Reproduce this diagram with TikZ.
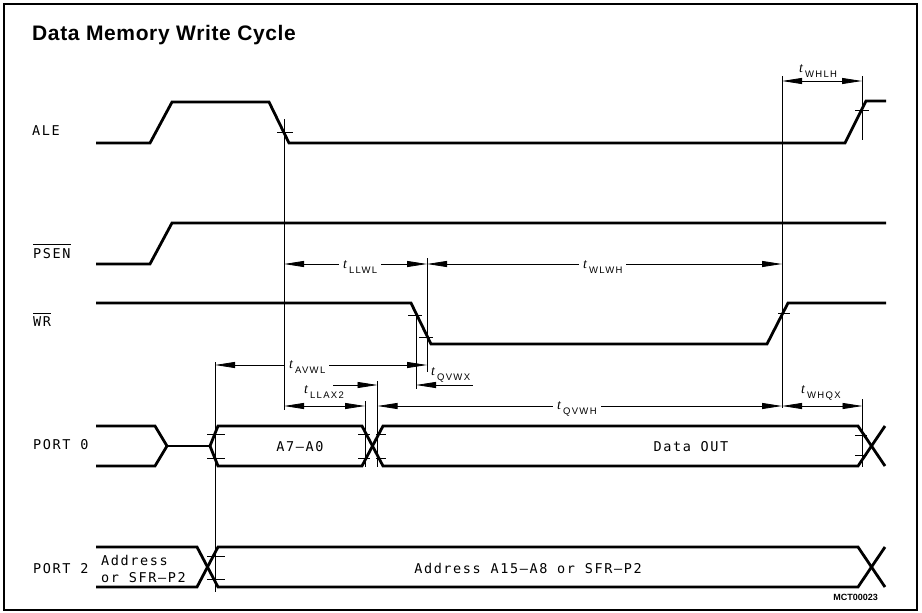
\documentclass[tikz,border=0pt]{standalone}
\usepackage{fontspec}
\setmainfont{Liberation Sans}
\newfontfamily\titlefont[LetterSpace=3]{Liberation Sans}
\newfontfamily\lblfont[LetterSpace=12]{DejaVu Sans Mono}
\newfontfamily\subfont[LetterSpace=14]{Liberation Sans}
\newfontfamily\tfont{Liberation Serif}
\usetikzlibrary{arrows.meta}
\newcommand\tlab[1]{{\tfont\itshape\fontsize{14}{14}\selectfont t}\hspace{2pt}\raisebox{-5pt}{\subfont\fontsize{9.5}{9.5}\selectfont #1}}
\begin{document}
\begin{tikzpicture}[x=1pt,y=-1pt,
  sig/.style={line width=2.8pt, line join=miter},
  thinln/.style={line width=0.8pt},
  tickln/.style={line width=0.8pt},
  dimln/.style={line width=0.8pt, {Triangle[length=20pt,width=6pt]}-{Triangle[length=20pt,width=6pt]}},
  dimr/.style={line width=0.8pt, -{Triangle[length=20pt,width=6pt]}},
  diml/.style={line width=0.8pt, {Triangle[length=20pt,width=6pt]}-},
  lbl/.style={font=\lblfont\fontsize{13.5}{16}\selectfont, inner sep=0pt},
  tlabel/.style={inner sep=0pt, anchor=base west},
  gaplabel/.style={inner xsep=4pt, inner ysep=1pt, fill=white, anchor=base west}]
\useasboundingbox (0,0) rectangle (922,613);
\draw[line width=1.3pt] (4,4) rectangle (917,610);

% title
\node[anchor=base west, inner sep=0pt, font=\titlefont\bfseries\fontsize{21}{25}\selectfont] (title) at (32,40) {Data Memory Write Cycle};

% signal names
\node[lbl, anchor=base west] (ale) at (32,135) {ALE};
\node[lbl, anchor=base west] (psen) at (33,258) {PSEN};
\node[lbl, anchor=base west] (wr) at (33,326) {WR};
\node[lbl, anchor=base west] (p0) at (33,449) {PORT 0};
\node[lbl, anchor=base west] (p2) at (33,573) {PORT 2};
\draw[thinln] ([yshift=3pt]psen.north west) -- ([yshift=3pt]psen.north east);
\draw[thinln] ([yshift=3pt]wr.north west) -- ([yshift=3pt]wr.north east);

% thin vertical reference lines
\draw[thinln] (284,119) -- (284,410);
\draw[thinln] (862,76) -- (862,140);
\draw[thinln] (782,76) -- (782,408);
\draw[thinln] (427,258) -- (427,372);
\draw[thinln] (416,313) -- (416,389);
\draw[thinln] (215,362) -- (215,592);
\draw[thinln] (365,401) -- (365,467);
\draw[thinln] (377.5,381) -- (377.5,467);
\draw[thinln] (862.5,399) -- (862.5,467);

% ALE
\draw[sig] (96,143) -- (150,143) -- (172,102) -- (269,102) -- (289,143) -- (845,143) -- (866,101) -- (886,101);
% PSEN
\draw[sig] (96,264) -- (150,264) -- (172,223) -- (886,223);
% WR
\draw[sig] (96,303) -- (411,303) -- (431,344) -- (767,344) -- (788,303) -- (886,303);

% PORT 0
\draw[sig] (96,426) -- (155,426) -- (167,446) -- (155,466) -- (96,466);
\draw[sig] (167,446) -- (210,446);
\draw[sig] (210,446) -- (218,426) -- (362,426) -- (383,466) -- (858,466) -- (885,426);
\draw[sig] (210,446) -- (218,466) -- (362,466) -- (383,426) -- (858,426) -- (885,466);
% PORT 2
\draw[sig] (96,547) -- (197,547) -- (218,587) -- (858,587) -- (885,547);
\draw[sig] (96,587) -- (197,587) -- (218,547) -- (858,547) -- (885,587);

% ticks
\draw[tickln] (277,132) -- (293,132);
\draw[tickln] (855,110) -- (869,110);
\draw[tickln] (408,315) -- (422,315);
\draw[tickln] (419,337) -- (433,337);
\draw[tickln] (778,313) -- (790,313);
\draw[tickln] (207,434) -- (225,434);
\draw[tickln] (207,458) -- (225,458);
\draw[tickln] (358,434) -- (370,434);
\draw[tickln] (376,434) -- (386,434);
\draw[tickln] (358,458) -- (370,458);
\draw[tickln] (376,458) -- (386,458);
\draw[tickln] (855,435) -- (867,435);
\draw[tickln] (855,455) -- (867,455);
\draw[tickln] (207,556) -- (225,556);
\draw[tickln] (207,579) -- (225,579);

% data texts
\node[lbl, anchor=base] (a70) at (300,451) {A7–A0};
\node[lbl, anchor=base] (dout) at (691,451) {Data OUT};
\node[lbl, anchor=base] (a158) at (528,573) {Address A15–A8 or SFR–P2};
\node[lbl, anchor=base west] (addr1) at (101,565) {Address};
\node[lbl, anchor=base west] (addr2) at (101,582) {or SFR–P2};
\node[anchor=base east, inner sep=0pt, font=\bfseries\fontsize{9}{10}\selectfont] (mct) at (878,600) {MCT00023};

% timing arrows
\coordinate (whlhA) at (782,81); \coordinate (whlhB) at (862,81);
\draw[dimln] (whlhA) -- (whlhB);
\node[tlabel] (lwhlh) at (799,72) {\tlab{WHLH}};

\coordinate (llwlA) at (284,264); \coordinate (llwlB) at (427,264);
\draw[dimln] (llwlA) -- (llwlB);
\node[gaplabel] (lllwl) at (339,268) {\tlab{LLWL}};

\coordinate (wlwhA) at (427,264); \coordinate (wlwhB) at (782,264);
\draw[dimln] (wlwhA) -- (wlwhB);
\node[gaplabel] (lwlwh) at (579,268) {\tlab{WLWH}};

\coordinate (avwlA) at (215,365); \coordinate (avwlB) at (427,365);
\draw[dimln] (avwlA) -- (avwlB);
\node[gaplabel] (lavwl) at (285,368) {\tlab{AVWL}};

\coordinate (qvwxA) at (416,385); \coordinate (qvwxB) at (473,385);
\draw[diml] (qvwxA) -- (qvwxB);
\node[tlabel] (lqvwx) at (431,375) {\tlab{QVWX}};

\coordinate (llaxA) at (333,385); \coordinate (llaxB) at (377.5,385);
\draw[dimr] (llaxA) -- (llaxB);
\coordinate (llaxC) at (284,406); \coordinate (llaxD) at (365,406);
\draw[dimln] (llaxC) -- (llaxD);
\node[tlabel] (lllax) at (304,393) {\tlab{LLAX2}};

\coordinate (qvwhA) at (377.5,406); \coordinate (qvwhB) at (782,406);
\draw[dimln] (qvwhA) -- (qvwhB);
\node[gaplabel] (lqvwh) at (553,409) {\tlab{QVWH}};

\coordinate (whqxA) at (782,406); \coordinate (whqxB) at (862.5,406);
\draw[dimln] (whqxA) -- (whqxB);
\node[tlabel] (lwhqx) at (801,393) {\tlab{WHQX}};
\end{tikzpicture}
\end{document}
